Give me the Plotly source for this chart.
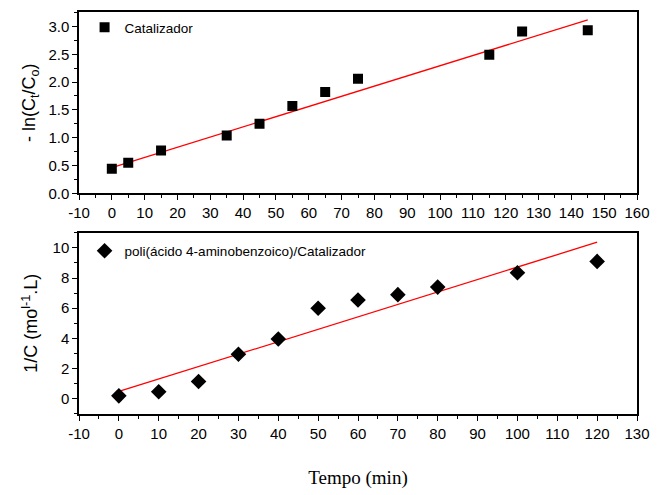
import plotly.graph_objects as go

# Top panel data (Catalizador)
t1 = [0, 5, 15, 35, 45, 55, 65, 75, 115, 125, 145]
y1 = [0.44, 0.55, 0.77, 1.04, 1.25, 1.57, 1.82, 2.06, 2.49, 2.91, 2.93]
fit1_x = [0, 145]
fit1_y = [0.46, 3.12]

# Bottom panel data (poli(ácido 4-aminobenzoico)/Catalizador)
t2 = [0, 10, 20, 30, 40, 50, 60, 70, 80, 100, 120]
y2 = [0.2, 0.47, 1.15, 2.95, 3.96, 6.0, 6.55, 6.9, 7.4, 8.35, 9.1]
fit2_x = [0, 120]
fit2_y = [0.49, 10.37]

label1 = "Catalizador"
label2 = "poli(ácido 4-aminobenzoico)/Catalizador"

# Tick labels (hyphen minus as in reference)
x1_ticks = list(range(-10, 161, 10))
x1_text = [str(v) for v in x1_ticks]
x2_ticks = list(range(-10, 131, 10))
x2_text = [str(v) for v in x2_ticks]

fig = go.Figure()
fig.add_trace(go.Scatter(x=fit1_x, y=fit1_y, mode="lines", line=dict(color="red", width=1.3),
                         showlegend=False, xaxis="x", yaxis="y"))
fig.add_trace(go.Scatter(x=t1, y=y1, mode="markers", name=label1,
                         marker=dict(symbol="square", size=10, color="black"),
                         xaxis="x", yaxis="y", legend="legend"))
fig.add_trace(go.Scatter(x=fit2_x, y=fit2_y, mode="lines", line=dict(color="red", width=1.3),
                         showlegend=False, xaxis="x2", yaxis="y2"))
fig.add_trace(go.Scatter(x=t2, y=y2, mode="markers", name=label2,
                         marker=dict(symbol="diamond", size=12, color="black"),
                         xaxis="x2", yaxis="y2", legend="legend2"))

tickfont = dict(family="Liberation Sans, Arial", size=15, color="black")
common = dict(showline=True, linecolor="black", linewidth=1.5, mirror=True, ticks="outside",
              ticklen=5, tickwidth=1.3, tickcolor="black", showgrid=False, zeroline=False,
              tickfont=tickfont)

fig.update_layout(
    width=664, height=495,
    margin=dict(l=79, r=27, t=10, b=79),
    paper_bgcolor="white", plot_bgcolor="white",
    font=dict(family="Liberation Sans, Arial", color="black"),
    xaxis=dict(domain=[0, 1], anchor="y", range=[-10, 160],
               tickmode="array", tickvals=x1_ticks, ticktext=x1_text,
               minor=dict(ticks="outside", ticklen=3, tickmode="linear", tick0=0, dtick=5,
                          tickcolor="black"), **common),
    yaxis=dict(domain=[0.549, 1], anchor="x", range=[0, 3.26], dtick=0.5, tickformat=".1f",
               minor=dict(ticks="outside", ticklen=3, dtick=0.25, tickcolor="black"),
               title=dict(text="- ln(C<sub>t</sub>/C<sub>o</sub>)",
                          font=dict(family="Liberation Sans, Arial", size=18), standoff=8),
               **common),
    xaxis2=dict(domain=[0, 1], anchor="y2", range=[-10, 130],
                tickmode="array", tickvals=x2_ticks, ticktext=x2_text,
                minor=dict(ticks="outside", ticklen=3, tickmode="linear", tick0=0, dtick=5,
                           tickcolor="black"),
                title=dict(text="Tempo (min)",
                           font=dict(family="Liberation Serif, Times New Roman", size=19),
                           standoff=30),
                **common),
    yaxis2=dict(domain=[0, 0.451], anchor="x2", range=[-1, 11], dtick=2,
                minor=dict(ticks="outside", ticklen=3, dtick=1, tickcolor="black"),
                title=dict(text="1/C (mo<sup>l-1</sup>.L)",
                           font=dict(family="Liberation Sans, Arial", size=18), standoff=10),
                **common),
    legend=dict(x=0.01, y=1.0, xanchor="left", yanchor="top", bgcolor="rgba(0,0,0,0)",
                font=dict(family="Liberation Sans, Arial", size=13.5)),
    legend2=dict(x=0.01, y=0.444, xanchor="left", yanchor="top", bgcolor="rgba(0,0,0,0)",
                 font=dict(family="Liberation Sans, Arial", size=13.5)),
)

fig.write_html("out.html")
